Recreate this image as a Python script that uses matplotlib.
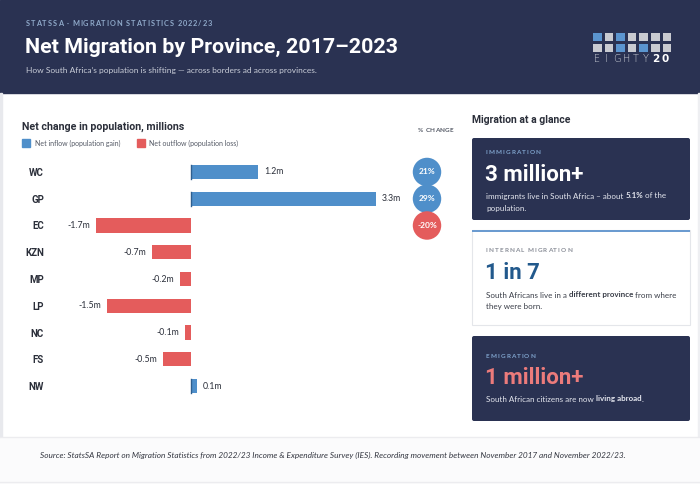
import matplotlib
matplotlib.use("Agg")
import matplotlib.pyplot as plt
from matplotlib.patches import Rectangle, FancyBboxPatch
import matplotlib.transforms as mtransforms

# ---------------- data ----------------
provinces = ["WC", "GP", "EC", "KZN", "MP", "LP", "NC", "FS", "NW"]
net_change = [1.2, 3.3, -1.7, -0.7, -0.2, -1.5, -0.1, -0.5, 0.1]
pct_provinces = ["WC", "GP", "EC"]
pct_change = [21, 29, -20]
legend_labels = ["Net inflow (population gain)", "Net outflow (population loss)"]

NAVY = "#2a3252"
BLUE = "#4f8fca"
RED = "#e45c5c"
DARK = "#2b2f3a"
BODY = "Lato"
HEAD = "Roboto"

W, H = 700, 484
fig = plt.figure(figsize=(W / 100, H / 100), dpi=100)
fig.patch.set_facecolor("white")
bg = fig.add_axes([0, 0, 1, 1])
bg.set_xlim(0, W)
bg.set_ylim(H, 0)
bg.axis("off")
renderer = fig.canvas.get_renderer()


def text_width(s, **kw):
    t = bg.text(0, 0, s, **kw)
    w = t.get_window_extent(renderer).width
    t.remove()
    return w


def spaced(x, y, text, spacing, **kw):
    """Draw text with extra letter spacing (pixels)."""
    sp = text_width("x x", **kw) - text_width("xx", **kw)
    for ch in text:
        if ch == " ":
            x += sp + spacing
            continue
        t = bg.text(x, y, ch, va="center", **kw)
        x += t.get_window_extent(renderer).width + spacing
    return x


def rich(x, y, parts, color, size):
    """Inline normal/bold segments; spaces are measured explicitly."""
    for txt, bold in parts:
        kw = dict(color=color, fontsize=size, family=BODY,
                  fontweight="bold" if bold else "normal")
        sp = text_width("x x", **kw) - text_width("xx", **kw)
        lead = len(txt) - len(txt.lstrip(" "))
        trail = len(txt) - len(txt.rstrip(" "))
        core = txt.strip(" ")
        x += lead * sp
        t = bg.text(x, y, core, va="center", **kw)
        x += t.get_window_extent(renderer).width + trail * sp


# ---------------- header ----------------
bg.add_patch(Rectangle((0, 0), W, 93, color=NAVY, zorder=0))
spaced(26, 24, "STATSSA · MIGRATION STATISTICS 2022/23", 0.95, color="#8fa9c9",
       fontsize=5.3, fontweight="bold", family=BODY)
bg.text(25, 47, "Net Migration by Province, 2017–2023", color="white",
        fontsize=15.4, fontweight="bold", family=HEAD, va="center")
bg.text(26, 70, "How South Africa’s population is shifting — across borders ad across provinces.",
        color="#c9cdd8", fontsize=6.07, family=BODY, va="center")

# logo
logo_top = [1, 0, 1, 0, 0, 0, 0]
logo_bot = [0, 0, 1, 0, 1, 0, 0]
for r, row in enumerate([logo_top, logo_bot]):
    for c, v in enumerate(row):
        bg.add_patch(Rectangle((593 + c * 11.6, 32.5 + r * 11.3), 8.6, 8.3,
                               color="#5b95cf" if v else "#c9cbd1", zorder=2, lw=0))
for i, ch in enumerate("EIGHTY20"):
    bold = i >= 6
    bg.text(597 + i * 9.75, 59.5, ch, color="white" if bold else "#d3d6dd",
            fontsize=7 if not bold else 7.5, fontweight="bold" if bold else "light",
            family="DejaVu Sans", ha="center", va="center")

# left light border & footer
bg.add_patch(Rectangle((0, 93), 2, 391, color="#e8e9ed", zorder=0))
bg.add_patch(Rectangle((698, 93), 2, 391, color="#eeeff2", zorder=0))
bg.plot([0, W], [437, 437], color="#ececef", lw=1)
bg.add_patch(Rectangle((0, 438), W, 46, color="#fbfbfc", zorder=0))
bg.plot([0, W], [482, 482], color="#ececef", lw=1)
bg.text(40, 455, "Source: StatsSA Report on Migration Statistics from 2022/23 Income & Expenditure Survey (IES). "
        "Recording movement between November 2017 and November 2022/23.",
        color="#333640", fontsize=5.93, style="italic", family=BODY, va="center")

# ---------------- chart titles ----------------
bg.text(22, 127, "Net change in population, millions", color=DARK, fontsize=7.7,
        fontweight="bold", family=HEAD, va="center")
spaced(418, 130, "% CHANGE", 0.3, color="#555a66", fontsize=4.6, fontweight="bold", family=BODY)
bg.add_patch(Rectangle((22, 139), 8, 8, color=BLUE))
bg.text(35, 143, legend_labels[0], color="#555a66", fontsize=5.05, family=BODY, va="center")
bg.add_patch(Rectangle((137, 139), 8, 8, color=RED))
bg.text(149, 143, legend_labels[1], color="#555a66", fontsize=5.05, family=BODY, va="center")

# ---------------- bar chart ----------------
ax_left, ax_right = 60, 460
ax_top, ax_bot = 158.6, 399.4
ax = fig.add_axes([ax_left / W, 1 - ax_bot / H, (ax_right - ax_left) / W, (ax_bot - ax_top) / H])
ax.set_facecolor("none")
zero_px, px_per_m = 191, 56.0
ax.set_xlim((ax_left - zero_px) / px_per_m, (ax_right - zero_px) / px_per_m)
ypos = list(range(len(provinces)))
ax.set_ylim(len(provinces) - 0.5, -0.5)
colors = [BLUE if v >= 0 else RED for v in net_change]
ax.barh(ypos, net_change, height=0.54, color=colors, zorder=2)
for y, v in zip(ypos, net_change):
    if v > 0:
        ax.plot([0, 0], [y - 0.27, y + 0.27], color="#2f5f8f", lw=1.0, zorder=3)
    lab = f"{v:.1f}m"
    off = 6 if v >= 0 else -6
    ax.annotate(lab, (v, y), xytext=(off, 0), textcoords="offset pixels",
                ha="left" if v >= 0 else "right", va="center", fontsize=6.3,
                color=DARK, family=BODY)
for s in ax.spines.values():
    s.set_visible(False)
ax.set_xticks([])
ax.set_yticks(ypos)
ax.set_yticklabels(provinces, fontsize=7, fontweight="bold", color=DARK, family=HEAD)
ax.tick_params(axis="y", length=0, pad=(ax_left - 44) * 0.72)

# percent circles
trans = mtransforms.blended_transform_factory(ax.transAxes, ax.transData)
circ_x = (427 - ax_left) / (ax_right - ax_left)
for p, pc in zip(pct_provinces, pct_change):
    y = provinces.index(p)
    col = BLUE if pc >= 0 else RED
    ax.scatter([circ_x], [y], s=420, color=col, transform=trans, zorder=4,
               edgecolors="none", clip_on=False)
    ax.text(circ_x, y, f"{pc}%", transform=trans, ha="center", va="center",
            color="white", fontsize=6, fontweight="bold", family=BODY, zorder=5)

# ---------------- right panel ----------------
bg.text(472, 120, "Migration at a glance", color=DARK, fontsize=7.5,
        fontweight="bold", family=HEAD, va="center")


def box(y0, y1, dark):
    if dark:
        bg.add_patch(FancyBboxPatch((472, y0), 218, y1 - y0, boxstyle="round,pad=0,rounding_size=2",
                                    facecolor=NAVY, edgecolor="none"))
    else:
        bg.add_patch(Rectangle((472, y0), 218, y1 - y0, facecolor="white",
                               edgecolor="#e4e6ea", lw=0.8))
        bg.add_patch(Rectangle((472, y0), 218, 2, color="#6b9bd0", lw=0))


BOX_TXT = 5.75
box(138, 220, True)
spaced(486, 153, "IMMIGRATION", 1.0, color="#7fa3cc", fontsize=4.6, fontweight="bold", family=BODY)
bg.text(485, 175, "3 million+", color="white", fontsize=16, fontweight="bold", family=HEAD, va="center")
rich(486, 196, [("immigrants live in South Africa – about ", False), ("5.1%", True), (" of the", False)],
     "#e4e6ee", BOX_TXT)
bg.text(486, 208, "population.", color="#e4e6ee", fontsize=BOX_TXT, family=BODY, va="center")

box(230, 325, False)
spaced(486, 251, "INTERNAL MIGRATION", 1.0, color="#8a8e98", fontsize=4.6, fontweight="bold", family=BODY)
bg.text(485, 273, "1 in 7", color="#22598c", fontsize=16, fontweight="bold", family=HEAD, va="center")
rich(486, 295, [("South Africans live in a ", False), ("different province", True), (" from where", False)],
     "#3a3e48", BOX_TXT)
bg.text(486, 307, "they were born.", color="#3a3e48", fontsize=BOX_TXT, family=BODY, va="center")

box(336, 421, True)
spaced(486, 356, "EMIGRATION", 1.0, color="#7fa3cc", fontsize=4.6, fontweight="bold", family=BODY)
bg.text(485, 378, "1 million+", color="#ec7b7b", fontsize=16, fontweight="bold", family=HEAD, va="center")
rich(486, 399, [("South African citizens are now ", False), ("living abroad", True), (".", False)],
     "#e4e6ee", BOX_TXT)

fig.savefig("out.png", dpi=100, facecolor=fig.get_facecolor())
